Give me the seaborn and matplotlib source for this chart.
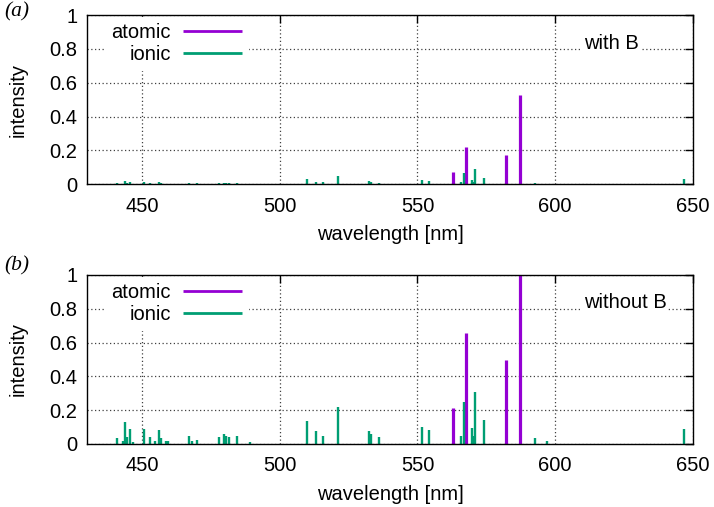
import matplotlib
matplotlib.use('Agg')
import matplotlib.pyplot as plt
import seaborn as sns

# emission lines
ionic_wl = [440.7, 443.1, 443.8, 444.5, 445.4, 446.5, 450.5, 452.8, 454.6, 455.9,
            456.8, 458.5, 459.4, 467.0, 468.0, 470.0, 477.9, 479.7, 480.5, 481.6,
            484.5, 489.0, 509.7, 513.1, 515.6, 521.2, 532.5, 533.0, 536.1, 551.5,
            554.2, 565.7, 566.9, 569.8, 570.3, 571.0, 574.2, 592.7, 597.2, 647.0]
ionic_with_B = [0.006, 0.003, 0.018, 0.006, 0.012, 0.002, 0.012, 0.005, 0.003, 0.012,
                0.006, 0.003, 0.003, 0.006, 0.003, 0.004, 0.006, 0.008, 0.007, 0.006,
                0.006, 0.002, 0.030, 0.013, 0.010, 0.046, 0.016, 0.012, 0.008, 0.024,
                0.018, 0.012, 0.067, 0.024, 0.012, 0.087, 0.037, 0.008, 0.003, 0.030]
ionic_without_B = [0.035, 0.020, 0.130, 0.040, 0.090, 0.010, 0.087, 0.040, 0.018, 0.080,
                   0.035, 0.015, 0.015, 0.045, 0.015, 0.025, 0.040, 0.060, 0.048, 0.042,
                   0.050, 0.010, 0.135, 0.077, 0.047, 0.220, 0.075, 0.060, 0.042, 0.100,
                   0.080, 0.050, 0.250, 0.093, 0.047, 0.310, 0.140, 0.034, 0.018, 0.089]

atomic_wl = [562.8, 567.7, 582.1, 587.2]
atomic_with_B = [0.069, 0.219, 0.172, 0.528]
atomic_without_B = [0.213, 0.657, 0.497, 1.0]

panels = [('(a)', 'with B', atomic_with_B, ionic_with_B),
          ('(b)', 'without B', atomic_without_B, ionic_without_B)]

x_ticks = [450, 500, 550, 600, 650]
y_ticks = [0, 0.2, 0.4, 0.6, 0.8, 1]
y_labels = ['0', '0.2', '0.4', '0.6', '0.8', '1']

c_atomic = '#9400d3'
c_ionic = '#009e73'

sns.set_theme(style='white')
plt.rcParams['font.family'] = ['Liberation Sans', 'DejaVu Sans']
plt.rcParams['text.color'] = 'black'
plt.rcParams['axes.labelcolor'] = 'black'

fs = 14.5

fig = plt.figure(figsize=(7.14, 5.07), dpi=100)
rects = [[0.1223, 0.637, 0.8477, 0.333], [0.1223, 0.1243, 0.8477, 0.3333]]
tag_y = [0.995, 0.494]

for (tag, note, at_vals, ion_vals), r, ty in zip(panels, rects, tag_y):
    ax = fig.add_axes(r)
    ax.vlines(atomic_wl, 0, at_vals, color=c_atomic, lw=2.3, label='atomic', zorder=3)
    ax.vlines(ionic_wl, 0, ion_vals, color=c_ionic, lw=1.7, label='ionic', zorder=3)

    ax.set_xlim(430, 650)
    ax.set_ylim(0, 1)
    ax.set_xticks(x_ticks)
    ax.set_yticks(y_ticks)
    ax.set_yticklabels(y_labels)
    ax.grid(True, color='0.25', linestyle=(0, (1, 2)), linewidth=0.9, zorder=0)
    ax.tick_params(direction='in', length=6, width=1, top=True, right=True,
                   labelsize=fs, colors='black')
    ax.tick_params(axis='x', pad=9)
    ax.tick_params(axis='y', pad=7)
    for s in ax.spines.values():
        s.set_color('black')
        s.set_linewidth(1.0)
        s.set_zorder(5)

    ax.set_xlabel('wavelength [nm]', fontsize=fs, labelpad=7)
    ax.set_ylabel('intensity', fontsize=fs, labelpad=16)

    leg = ax.legend(loc='upper left', bbox_to_anchor=(0.03, 0.99), markerfirst=False,
                    frameon=True, fontsize=fs, handlelength=2.9, handletextpad=0.6,
                    labelspacing=0.15, borderaxespad=0.0, borderpad=0.3, fancybox=False)
    leg.get_frame().set_facecolor('white')
    leg.get_frame().set_edgecolor('white')
    leg.get_frame().set_alpha(1)
    leg.set_zorder(4)
    for h in leg.get_lines():
        h.set_linewidth(2)

    ax.text(0.82, 0.835, note, transform=ax.transAxes, fontsize=fs, va='center',
            ha='left', zorder=4,
            bbox=dict(facecolor='white', edgecolor='none', pad=1.5))

    fig.text(0.006, ty, tag, fontsize=15.5, family='Liberation Serif',
             style='italic', va='top', ha='left')

fig.savefig('out.png', dpi=100)
